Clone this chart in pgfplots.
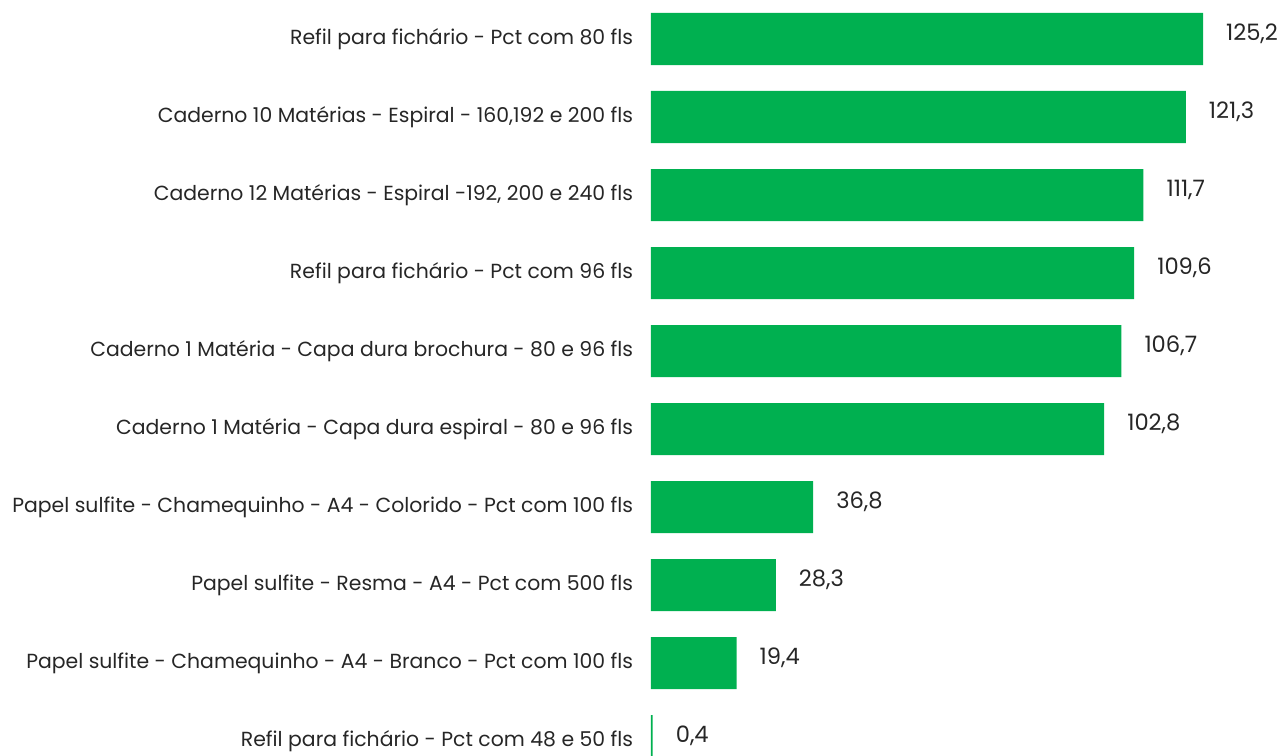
\documentclass[border=0pt]{standalone}
\usepackage{pgfplots}
\pgfplotsset{compat=1.18}
\usepackage{fontspec}
\setmainfont{Poppins}
\definecolor{xlgreen}{HTML}{00B050}
\begin{document}
\begin{tikzpicture}
\begin{axis}[
  xbar,
  scale only axis,
  width=318pt, height=390pt,
  xmin=0, xmax=144.25,
  ymin=-0.5, ymax=9.5,
  y dir=reverse,
  clip=false,
  bar width=0.667,
  axis line style={draw=none},
  tick style={draw=none},
  xtick=\empty,
  ytick={0,...,9},
  yticklabels={
    {Refil para fichário - Pct com 80 fls},
    {Caderno 10 Matérias - Espiral - 160,192 e 200 fls},
    {Caderno 12 Matérias - Espiral -192, 200 e 240 fls},
    {Refil para fichário - Pct com 96 fls},
    {Caderno 1 Matéria - Capa dura brochura - 80 e 96 fls},
    {Caderno 1 Matéria - Capa dura espiral - 80 e 96 fls},
    {Papel sulfite - Chamequinho - A4 - Colorido - Pct com 100 fls},
    {Papel sulfite - Resma - A4 - Pct com 500 fls},
    {Papel sulfite - Chamequinho - A4 - Branco - Pct com 100 fls},
    {Refil para fichário - Pct com 48 e 50 fls}},
  yticklabel style={font=\fontsize{10.2}{12}\selectfont, color=black!85, anchor=east, inner sep=0pt, xshift=-4.5pt},
  nodes near coords,
  point meta=x,
  every node near coord/.append style={font=\fontsize{11.3}{12}\selectfont, color=black!85, anchor=west, xshift=8pt, yshift=2.5pt,
    /pgf/number format/.cd, fixed, fixed zerofill, precision=1, use comma, assume math mode=true},
]
\addplot[fill=xlgreen, draw=none] coordinates {
  (125.2,0) (121.3,1) (111.7,2) (109.6,3) (106.7,4)
  (102.8,5) (36.8,6) (28.3,7) (19.4,8) (0.4,9)
};
\coordinate (BBA) at (axis cs:-147.65,-0.5);
\coordinate (BBB) at (axis cs:144.25,9.192);
\end{axis}
\pgfresetboundingbox
\path[use as bounding box] (BBA) rectangle (BBB);
\end{tikzpicture}
\end{document}
